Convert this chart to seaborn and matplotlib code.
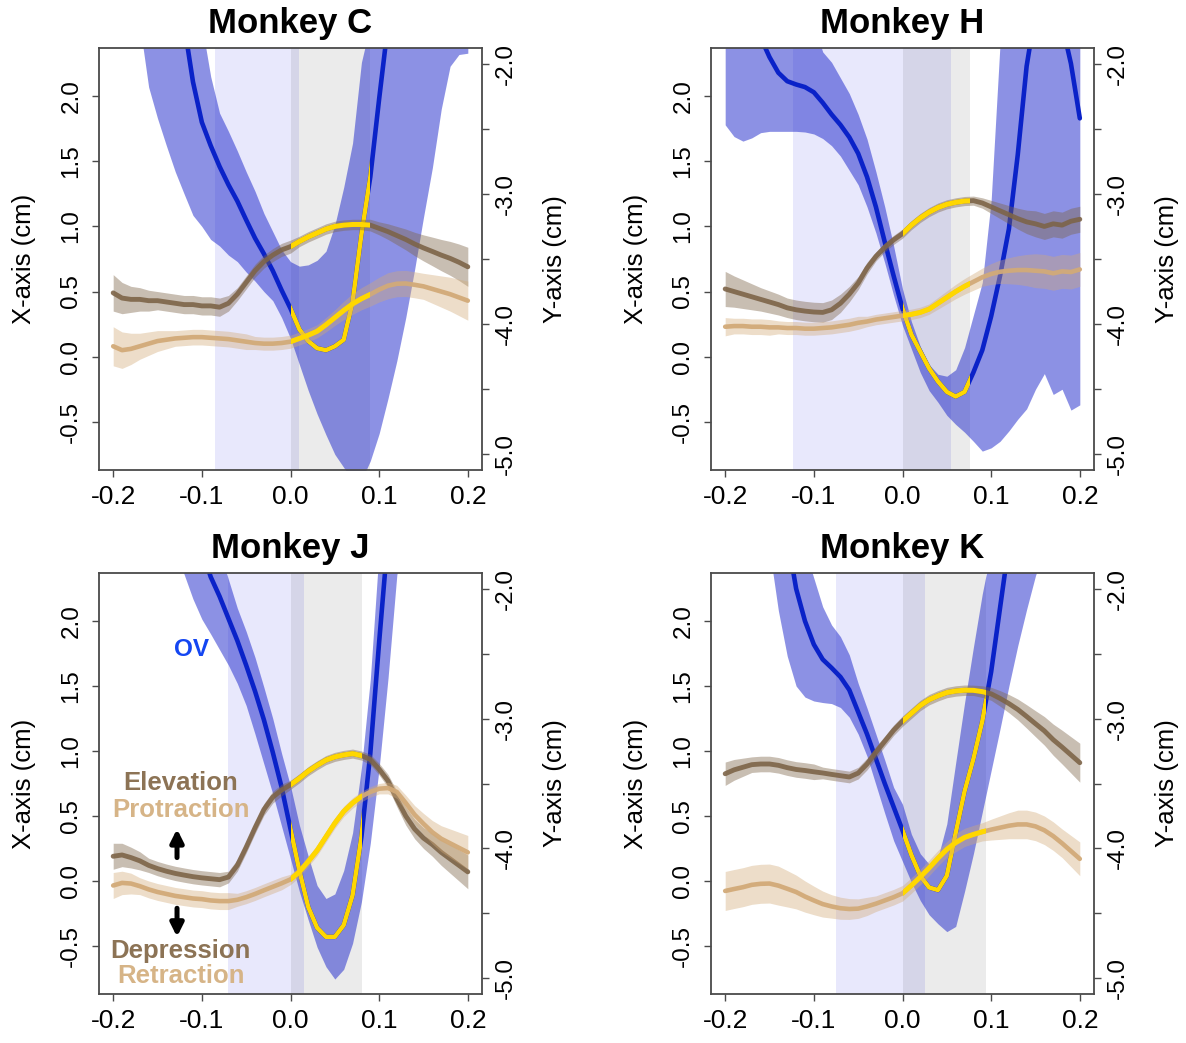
import matplotlib
matplotlib.use("Agg")
import numpy as np
import pandas as pd
import matplotlib.pyplot as plt
from matplotlib.patches import Rectangle
import seaborn as sns

nan = float("nan")

# ---------------- data (time in s) ----------------
time_s = [-0.20, -0.19, -0.18, -0.17, -0.16, -0.15, -0.14, -0.13, -0.12, -0.11,
          -0.10, -0.09, -0.08, -0.07, -0.06, -0.05, -0.04, -0.03, -0.02, -0.01,
          0.00, 0.01, 0.02, 0.03, 0.04, 0.05, 0.06, 0.07, 0.08, 0.09,
          0.10, 0.11, 0.12, 0.13, 0.14, 0.15, 0.16, 0.17, 0.18, 0.19, 0.20]

# Monkey C
C_ov = [nan, nan, nan, nan, nan, nan, nan, nan, -1.70, -2.14,
        -2.45, -2.63, -2.79, -2.93, -3.055, -3.20, -3.34, -3.46, -3.59, -3.74,
        -3.88, -4.04, -4.13, -4.185, -4.20, -4.17, -4.12, -3.83, -3.31, -2.87,
        -2.27, -1.70, nan, nan, nan, nan, nan, nan, nan, nan, nan]
C_ov_lo = [nan, nan, nan, -1.70, -2.18, -2.42, -2.63, -2.83, -3.00, -3.165,
           -3.25, -3.35, -3.40, -3.47, -3.52, -3.60, -3.67, -3.75, -3.82, -3.95,
           -4.11, -4.31, -4.51, -4.69, -4.85, -5.00, -5.10, -5.20, -5.20, -5.05,
           -4.84, -4.57, -4.28, -3.95, -3.58, -3.18, -2.80, -2.35, -2.02, -1.93, -1.92]
C_ov_hi = [nan, nan, nan, -1.70, -1.70, -1.70, -1.70, -1.70, -1.70, -1.70,
           -1.70, -2.10, -2.38, -2.52, -2.67, -2.83, -2.98, -3.15, -3.29, -3.43,
           -3.52, -3.555, -3.545, -3.51, -3.44, -3.24, -2.95, -2.61, -1.99, -1.70,
           -1.70, -1.70, -1.70, -1.70, -1.70, -1.70, -1.70, -1.70, -1.70, -1.70, -1.70]
C_elev = [0.49, 0.45, 0.44, 0.44, 0.43, 0.43, 0.42, 0.41, 0.40, 0.40,
          0.39, 0.39, 0.38, 0.41, 0.48, 0.57, 0.66, 0.73, 0.78, 0.82,
          0.845, 0.885, 0.92, 0.95, 0.98, 1.00, 1.01, 1.015, 1.015, 1.01,
          0.985, 0.96, 0.93, 0.90, 0.865, 0.835, 0.808, 0.78, 0.755, 0.725, 0.69]
C_elev_sd = [0.14, 0.12, 0.10, 0.09, 0.08, 0.07, 0.07, 0.07, 0.07, 0.07,
             0.07, 0.07, 0.07, 0.06, 0.05, 0.05, 0.05, 0.05, 0.05, 0.05,
             0.05, 0.04, 0.04, 0.04, 0.04, 0.04, 0.04, 0.04, 0.04, 0.045,
             0.05, 0.06, 0.07, 0.08, 0.09, 0.10, 0.11, 0.12, 0.13, 0.14, 0.15]
C_prot = [0.08, 0.05, 0.06, 0.08, 0.10, 0.12, 0.13, 0.14, 0.145, 0.15,
          0.15, 0.145, 0.14, 0.135, 0.125, 0.115, 0.105, 0.10, 0.10, 0.105,
          0.115, 0.14, 0.165, 0.195, 0.245, 0.30, 0.355, 0.405, 0.445, 0.478,
          0.515, 0.545, 0.56, 0.562, 0.552, 0.54, 0.52, 0.50, 0.48, 0.455, 0.43]
C_prot_sd = [0.15, 0.14, 0.12, 0.10, 0.09, 0.08, 0.07, 0.06, 0.06, 0.06,
             0.06, 0.06, 0.06, 0.06, 0.06, 0.06, 0.05, 0.05, 0.05, 0.05,
             0.05, 0.05, 0.05, 0.05, 0.055, 0.06, 0.07, 0.08, 0.085, 0.09,
             0.095, 0.10, 0.10, 0.10, 0.10, 0.10, 0.11, 0.12, 0.13, 0.14, 0.15]
C_pre = (-0.085, 0.010)
C_post = (0.0, 0.090)

# Monkey H
H_ov = [nan, nan, nan, nan, -1.80, -1.95, -2.07, -2.135, -2.16, -2.18,
        -2.22, -2.30, -2.39, -2.47, -2.565, -2.69, -2.87, -3.10, -3.37, -3.63,
        -3.88, -4.08, -4.21, -4.34, -4.44, -4.52, -4.556, -4.52, -4.37, -4.20,
        -3.94, -3.63, -3.27, -2.70, -2.02, -1.60, nan, nan, -1.70, -2.00, -2.42]
H_ov_lo = [-2.47, -2.56, -2.595, -2.57, -2.53, -2.52, -2.52, -2.52, -2.52, -2.525,
           -2.54, -2.575, -2.63, -2.71, -2.82, -2.93, -3.10, -3.30, -3.53, -3.78,
           -4.01, -4.19, -4.37, -4.51, -4.60, -4.70, -4.77, -4.83, -4.90, -4.975,
           -4.95, -4.90, -4.82, -4.73, -4.65, -4.50, -4.38, -4.54, -4.50, -4.66, -4.62]
H_ov_hi = [-1.70, -1.70, -1.70, -1.70, -1.70, -1.70, -1.70, -1.70, -1.70, -1.70,
           -1.70, -1.91, -1.99, -2.11, -2.23, -2.39, -2.58, -2.83, -3.10, -3.40,
           -3.73, -3.98, -4.17, -4.31, -4.385, -4.40, -4.35, -4.18, -3.93, -3.68,
           -3.05, -1.85, -1.70, -1.70, -1.70, -1.70, -1.70, -1.70, -1.70, -1.70, -1.70]
H_elev = [0.52, 0.50, 0.48, 0.46, 0.44, 0.42, 0.40, 0.375, 0.36, 0.35,
          0.343, 0.34, 0.36, 0.41, 0.48, 0.565, 0.68, 0.77, 0.84, 0.897,
          0.945, 1.01, 1.065, 1.11, 1.145, 1.17, 1.185, 1.195, 1.198, 1.18,
          1.15, 1.12, 1.09, 1.06, 1.035, 1.02, 1.00, 1.02, 1.01, 1.04, 1.055]
H_elev_sd = [0.135, 0.12, 0.11, 0.10, 0.09, 0.085, 0.08, 0.075, 0.075, 0.075,
             0.075, 0.075, 0.075, 0.07, 0.06, 0.05, 0.045, 0.035, 0.035, 0.035,
             0.035, 0.035, 0.035, 0.035, 0.035, 0.035, 0.035, 0.035, 0.035, 0.04,
             0.05, 0.06, 0.07, 0.08, 0.09, 0.10, 0.10, 0.10, 0.10, 0.10, 0.10]
H_prot = [0.23, 0.235, 0.235, 0.23, 0.23, 0.225, 0.225, 0.22, 0.22, 0.215,
          0.215, 0.22, 0.225, 0.235, 0.245, 0.26, 0.27, 0.285, 0.295, 0.305,
          0.315, 0.325, 0.34, 0.365, 0.41, 0.455, 0.50, 0.54, 0.575, 0.61,
          0.635, 0.652, 0.66, 0.665, 0.665, 0.66, 0.655, 0.64, 0.655, 0.65, 0.67]
H_prot_sd = [0.07, 0.06, 0.06, 0.06, 0.06, 0.06, 0.05, 0.05, 0.05, 0.05,
             0.05, 0.05, 0.05, 0.05, 0.05, 0.05, 0.04, 0.04, 0.04, 0.04,
             0.04, 0.04, 0.04, 0.04, 0.045, 0.05, 0.055, 0.06, 0.065, 0.07,
             0.08, 0.09, 0.10, 0.11, 0.12, 0.13, 0.13, 0.13, 0.13, 0.13, 0.13]
H_pre = (-0.124, 0.055)
H_post = (0.0, 0.076)

# Monkey J
J_ov = [nan, nan, nan, nan, nan, nan, nan, nan, nan, nan,
        -1.70, -1.91, -2.06, -2.23, -2.40, -2.59, -2.79, -3.01, -3.26, -3.53,
        -3.85, -4.17, -4.45, -4.61, -4.68, -4.68, -4.59, -4.36, -3.91, -3.27,
        -2.41, -1.60, nan, nan, nan, nan, nan, nan, nan, nan, nan]
J_ov_lo = [nan, nan, nan, nan, nan, nan, nan, -1.70, -1.89, -2.08,
           -2.235, -2.35, -2.47, -2.59, -2.73, -2.90, -3.12, -3.35, -3.58, -3.83,
           -4.08, -4.33, -4.55, -4.76, -4.91, -5.005, -4.93, -4.73, -4.41, -3.96,
           -3.38, -2.69, -1.89, -1.70, nan, nan, nan, nan, nan, nan, nan]
J_ov_hi = [nan, nan, nan, nan, nan, nan, nan, -1.70, -1.70, -1.70,
           -1.70, -1.70, -1.70, -1.93, -2.15, -2.33, -2.53, -2.76, -3.00, -3.27,
           -3.52, -3.82, -4.06, -4.285, -4.385, -4.35, -4.17, -3.88, -3.38, -2.70,
           -1.70, -1.70, -1.70, -1.70, nan, nan, nan, nan, nan, nan, nan]
J_elev = [0.19, 0.20, 0.18, 0.155, 0.12, 0.095, 0.075, 0.058, 0.045, 0.033,
          0.024, 0.017, 0.01, 0.03, 0.12, 0.26, 0.41, 0.55, 0.645, 0.70,
          0.74, 0.79, 0.845, 0.89, 0.93, 0.955, 0.97, 0.98, 0.965, 0.935,
          0.86, 0.77, 0.63, 0.50, 0.40, 0.33, 0.28, 0.22, 0.17, 0.12, 0.07]
J_elev_sd = [0.10, 0.09, 0.08, 0.07, 0.055, 0.055, 0.055, 0.055, 0.055, 0.055,
             0.055, 0.055, 0.055, 0.045, 0.045, 0.045, 0.045, 0.045, 0.045, 0.045,
             0.035, 0.035, 0.035, 0.035, 0.035, 0.035, 0.035, 0.035, 0.035, 0.04,
             0.045, 0.05, 0.06, 0.07, 0.075, 0.08, 0.09, 0.10, 0.11, 0.12, 0.13]
J_prot = [-0.035, -0.015, -0.02, -0.04, -0.065, -0.085, -0.10, -0.115, -0.125, -0.135,
          -0.14, -0.15, -0.155, -0.155, -0.145, -0.125, -0.10, -0.072, -0.045, -0.018,
          0.012, 0.07, 0.15, 0.235, 0.34, 0.445, 0.535, 0.60, 0.65, 0.685,
          0.71, 0.715, 0.685, 0.60, 0.51, 0.44, 0.375, 0.325, 0.29, 0.255, 0.22]
J_prot_sd = [0.10, 0.09, 0.08, 0.065, 0.065, 0.065, 0.065, 0.065, 0.065, 0.065,
             0.065, 0.065, 0.065, 0.065, 0.05, 0.05, 0.05, 0.05, 0.05, 0.05,
             0.04, 0.04, 0.04, 0.04, 0.04, 0.04, 0.04, 0.04, 0.04, 0.04,
             0.04, 0.045, 0.05, 0.06, 0.07, 0.08, 0.09, 0.10, 0.11, 0.12, 0.13]
J_pre = (-0.070, 0.015)
J_post = (0.0, 0.081)

# Monkey K
K_ov = [nan, nan, nan, nan, nan, nan, nan, -1.60, -2.00, -2.25,
        -2.43, -2.545, -2.61, -2.68, -2.78, -2.95, -3.12, -3.31, -3.50, -3.68,
        -3.86, -4.05, -4.21, -4.30, -4.32, -4.21, -3.88, -3.56, -3.31, -3.02,
        -2.64, -2.15, -1.66, nan, nan, nan, nan, nan, nan, nan, nan]
K_ov_lo = [nan, nan, nan, nan, nan, -1.70, -2.17, -2.52, -2.75, -2.835,
           -2.865, -2.877, -2.885, -2.915, -2.99, -3.12, -3.29, -3.51, -3.73, -3.94,
           -4.10, -4.26, -4.40, -4.51, -4.58, -4.64, -4.60, -4.33, -4.04, -3.72,
           -3.40, -3.08, -2.75, -2.44, -2.16, -1.90, -1.70, nan, nan, nan, nan]
K_ov_hi = [nan, nan, nan, nan, nan, -1.70, -1.70, -1.70, -1.70, -1.70,
           -1.92, -2.14, -2.28, -2.37, -2.51, -2.73, -2.92, -3.12, -3.32, -3.53,
           -3.66, -3.89, -4.04, -4.12, -4.07, -3.81, -3.34, -2.88, -2.45, -2.04,
           -1.70, -1.70, -1.70, -1.70, -1.70, -1.70, -1.70, nan, nan, nan, nan]
K_elev = [0.825, 0.855, 0.875, 0.895, 0.90, 0.90, 0.89, 0.872, 0.858, 0.85,
          0.84, 0.831, 0.82, 0.81, 0.80, 0.83, 0.90, 0.99, 1.075, 1.16,
          1.23, 1.29, 1.35, 1.395, 1.425, 1.45, 1.462, 1.468, 1.467, 1.457,
          1.44, 1.405, 1.365, 1.32, 1.266, 1.21, 1.155, 1.087, 1.03, 0.97, 0.91]
K_elev_sd = [0.09, 0.08, 0.07, 0.06, 0.06, 0.06, 0.06, 0.06, 0.06, 0.06,
             0.06, 0.045, 0.045, 0.045, 0.045, 0.045, 0.045, 0.045, 0.04, 0.04,
             0.04, 0.04, 0.04, 0.04, 0.04, 0.04, 0.04, 0.04, 0.04, 0.045,
             0.05, 0.06, 0.07, 0.08, 0.09, 0.10, 0.11, 0.12, 0.13, 0.14, 0.15]
K_prot = [-0.077, -0.062, -0.048, -0.03, -0.022, -0.02, -0.036, -0.06, -0.085, -0.12,
          -0.15, -0.178, -0.196, -0.21, -0.216, -0.213, -0.196, -0.175, -0.15, -0.125,
          -0.095, -0.035, 0.03, 0.10, 0.175, 0.243, 0.295, 0.335, 0.358, 0.378,
          0.395, 0.41, 0.425, 0.435, 0.435, 0.42, 0.39, 0.345, 0.29, 0.23, 0.17]
K_prot_sd = [0.15, 0.15, 0.15, 0.15, 0.15, 0.15, 0.15, 0.14, 0.13, 0.12,
             0.11, 0.10, 0.09, 0.085, 0.08, 0.075, 0.07, 0.06, 0.06, 0.06,
             0.06, 0.06, 0.06, 0.06, 0.06, 0.06, 0.07, 0.07, 0.07, 0.07,
             0.08, 0.09, 0.10, 0.11, 0.11, 0.11, 0.11, 0.11, 0.11, 0.12, 0.13]
K_pre = (-0.075, 0.025)
K_post = (0.0, 0.094)

titles = ["Monkey C", "Monkey H", "Monkey J", "Monkey K"]
x_ticks = [-0.2, -0.1, 0.0, 0.1, 0.2]
x_tick_labels = ["-0.2", "-0.1", "0.0", "0.1", "0.2"]
yl_ticks = [-0.5, 0.0, 0.5, 1.0, 1.5, 2.0]
yl_tick_labels = ["-0.5", "0.0", "0.5", "1.0", "1.5", "2.0"]
yr_ticks = [-5.0, -4.5, -4.0, -3.5, -3.0, -2.5, -2.0]
yr_tick_labels = ["-5.0", "", "-4.0", "", "-3.0", "", "-2.0"]

# ---------------- style ----------------
sns.set_theme(style="white")
plt.rcParams["font.family"] = ["Liberation Sans", "DejaVu Sans"]
plt.rcParams["axes.unicode_minus"] = False
plt.rcParams["text.color"] = "black"
plt.rcParams["axes.labelcolor"] = "black"
plt.rcParams["xtick.color"] = "black"
plt.rcParams["ytick.color"] = "black"

W, H = 1186, 1043
fig = plt.figure(figsize=(W / 100, H / 100), dpi=100)
fig.patch.set_facecolor("white")

LAV = "#E8E8FC"
OV_BAND = "#1A24CB"
OV_LINE = "#0A22C8"
GOLD = "#FFD700"
BROWN = "#7D6448"
TAN = "#D2AA78"
FRAME = "#4a4a4a"

XLIM = (-0.216, 0.216)
YLIM_L = (-0.87, 2.37)
YLIM_R = (-5.12, -1.88)

rects = [(99, 48, 482, 470), (711, 48, 1094, 470),
         (99, 573, 482, 994), (711, 573, 1094, 994)]

panels = [
    dict(ov=C_ov, ov_lo=C_ov_lo, ov_hi=C_ov_hi, elev=C_elev, elev_sd=C_elev_sd,
         prot=C_prot, prot_sd=C_prot_sd, pre=C_pre, post=C_post),
    dict(ov=H_ov, ov_lo=H_ov_lo, ov_hi=H_ov_hi, elev=H_elev, elev_sd=H_elev_sd,
         prot=H_prot, prot_sd=H_prot_sd, pre=H_pre, post=H_post),
    dict(ov=J_ov, ov_lo=J_ov_lo, ov_hi=J_ov_hi, elev=J_elev, elev_sd=J_elev_sd,
         prot=J_prot, prot_sd=J_prot_sd, pre=J_pre, post=J_post),
    dict(ov=K_ov, ov_lo=K_ov_lo, ov_hi=K_ov_hi, elev=K_elev, elev_sd=K_elev_sd,
         prot=K_prot, prot_sd=K_prot_sd, pre=K_pre, post=K_post),
]


def clip_to_span(line, ax, span):
    rect = Rectangle((span[0], -100), span[1] - span[0], 200, transform=ax.transData)
    line.set_clip_path(rect)


def draw_panel(rect, title, p, annotate=False):
    l, t, r, b = rect
    axl = fig.add_axes([l / W, 1 - b / H, (r - l) / W, (b - t) / H])
    axr = axl.twinx()
    axl.set_zorder(axr.get_zorder() + 1)
    axl.patch.set_visible(False)

    df = pd.DataFrame({"time": time_s, "ov": p["ov"], "ov_lo": p["ov_lo"],
                       "ov_hi": p["ov_hi"], "elev": p["elev"], "elev_sd": p["elev_sd"],
                       "prot": p["prot"], "prot_sd": p["prot_sd"]})

    # ----- right axis : OV -----
    axr.axvspan(p["pre"][0], p["pre"][1], color=LAV, lw=0, zorder=0)
    axr.axvspan(p["post"][0], p["post"][1], color="black", alpha=0.08, lw=0, zorder=0.5)
    axr.fill_between(df["time"], df["ov_lo"], df["ov_hi"], color=OV_BAND,
                     alpha=0.5, lw=0, zorder=1)
    sns.lineplot(data=df, x="time", y="ov", ax=axr, color=OV_LINE, linewidth=3.3,
                 estimator=None, solid_capstyle="round", zorder=2)
    sns.lineplot(data=df, x="time", y="ov", ax=axr, color=GOLD, linewidth=3.2,
                 estimator=None, solid_capstyle="round", zorder=3)
    clip_to_span(axr.lines[-1], axr, p["post"])

    # ----- left axis : elevation / protraction -----
    elev = df["elev"].to_numpy()
    esd = df["elev_sd"].to_numpy()
    prot = df["prot"].to_numpy()
    psd = df["prot_sd"].to_numpy()
    axl.fill_between(df["time"], elev - esd, elev + esd, color=BROWN, alpha=0.42,
                     lw=0, zorder=1)
    sns.lineplot(data=df, x="time", y="elev", ax=axl, color=BROWN, linewidth=3.5,
                 estimator=None, solid_capstyle="round", alpha=0.9, zorder=2)
    axl.fill_between(df["time"], prot - psd, prot + psd, color=TAN, alpha=0.4,
                     lw=0, zorder=3)
    sns.lineplot(data=df, x="time", y="prot", ax=axl, color=TAN, linewidth=3.3,
                 estimator=None, solid_capstyle="round", alpha=0.95, zorder=4)
    for col in ["elev", "prot"]:
        sns.lineplot(data=df, x="time", y=col, ax=axl, color=GOLD, linewidth=3.6,
                     estimator=None, solid_capstyle="round", zorder=5)
        clip_to_span(axl.lines[-1], axl, p["post"])

    # ----- axes cosmetics -----
    axl.set_xlim(XLIM)
    axl.set_ylim(YLIM_L)
    axr.set_ylim(YLIM_R)

    axl.set_xticks(x_ticks)
    axl.set_xticklabels(x_tick_labels, fontsize=19)
    axl.set_yticks(yl_ticks)
    axl.set_yticklabels(yl_tick_labels, fontsize=17.5, rotation=90, va="center")
    axr.set_yticks(yr_ticks)
    axr.set_yticklabels(yr_tick_labels, fontsize=17.5, rotation=90, va="center")

    axl.tick_params(axis="x", bottom=True, direction="out", length=5, width=1,
                    color=FRAME, pad=6)
    axl.tick_params(axis="y", left=True, right=False, direction="out", length=5,
                    width=1, color=FRAME, pad=7)
    axr.tick_params(axis="y", right=True, left=False, direction="out", length=5,
                    width=1, color=FRAME, pad=4)

    for s in axl.spines.values():
        s.set_color(FRAME)
        s.set_linewidth(1.3)
    for s in axr.spines.values():
        s.set_visible(False)

    axl.set_xlabel("")
    axr.set_xlabel("")
    axl.set_ylabel("X-axis (cm)", fontsize=18.5)
    axl.yaxis.label.set_va("center")
    axl.yaxis.set_label_coords(-0.195, 0.5)
    axr.set_ylabel("Y-axis (cm)", fontsize=18.5)
    axr.yaxis.label.set_va("center")
    axr.yaxis.set_label_coords(1.19, 0.5)

    axl.set_title(title, fontsize=25, fontweight="bold", pad=11, color="black")

    if annotate:
        tx = -0.124
        axl.text(-0.112, 1.78, "OV", color="#1446F2", fontsize=17.5, fontweight="bold",
                 ha="center", va="center", zorder=6)
        axl.text(tx, 0.75, "Elevation", color="#8C7355", fontsize=18.5,
                 fontweight="bold", ha="center", va="center", zorder=6)
        axl.text(tx, 0.545, "Protraction", color="#D6B487", fontsize=18.5,
                 fontweight="bold", ha="center", va="center", zorder=6)
        axl.text(tx, -0.54, "Depression", color="#8C7355", fontsize=18.5,
                 fontweight="bold", ha="center", va="center", zorder=6)
        axl.text(tx, -0.735, "Retraction", color="#D6B487", fontsize=18.5,
                 fontweight="bold", ha="center", va="center", zorder=6)
        axl.annotate("", xy=(-0.128, 0.40), xytext=(-0.128, 0.18),
                     arrowprops=dict(arrowstyle="-|>", color="black", lw=3.6,
                                     mutation_scale=19, shrinkA=0, shrinkB=0), zorder=6)
        axl.annotate("", xy=(-0.128, -0.43), xytext=(-0.128, -0.21),
                     arrowprops=dict(arrowstyle="-|>", color="black", lw=3.6,
                                     mutation_scale=19, shrinkA=0, shrinkB=0), zorder=6)
    return axl, axr


for i, (rect, title, p) in enumerate(zip(rects, titles, panels)):
    draw_panel(rect, title, p, annotate=(i == 2))

fig.savefig("out.png", dpi=100, facecolor="white")
